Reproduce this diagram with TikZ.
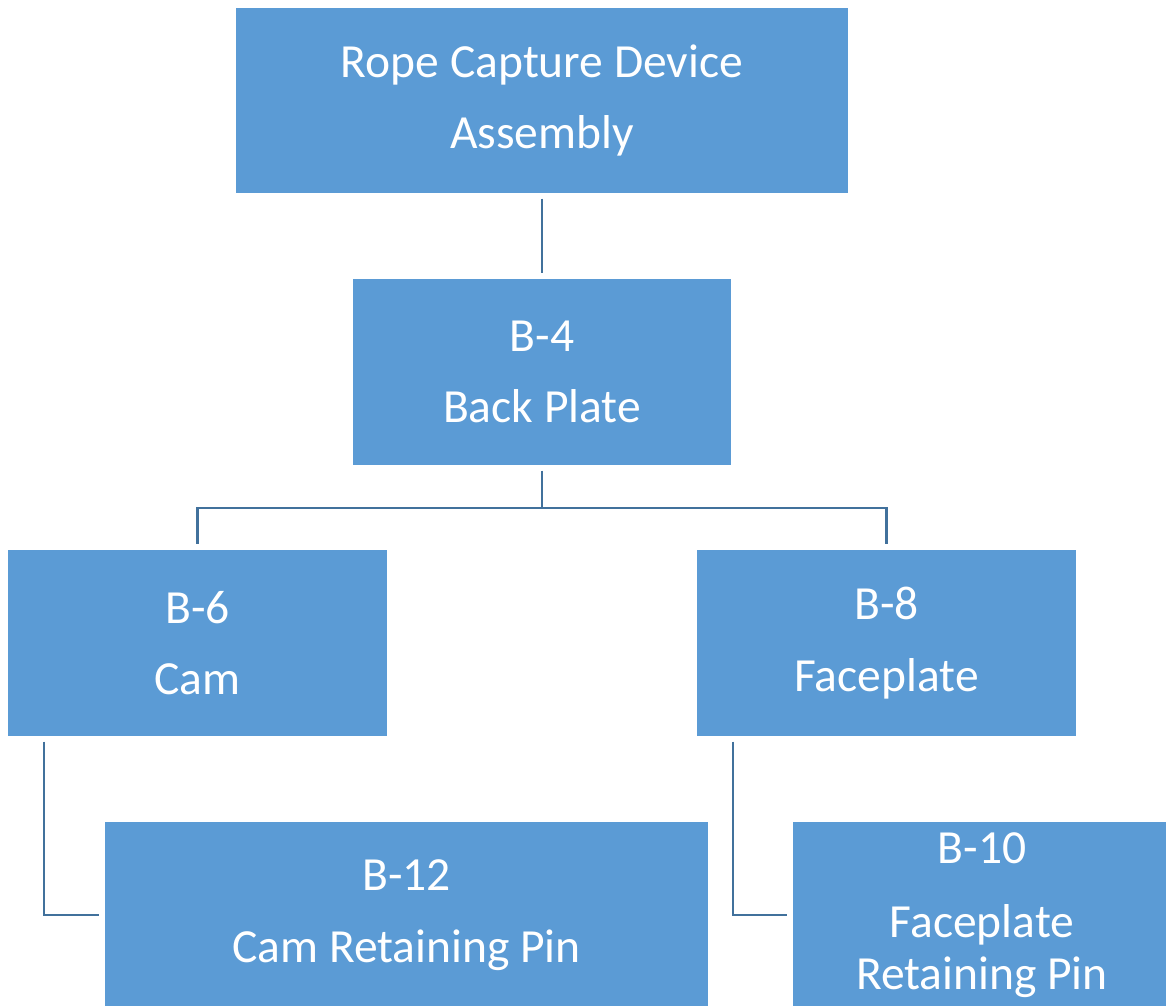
\documentclass[tikz,border=0pt]{standalone}
\usepackage{fontspec}
\setmainfont{Carlito}
\usepackage{tikz}
\usetikzlibrary{arrows.meta}

\definecolor{boxblue}{HTML}{5B9BD5}
\definecolor{lineblue}{HTML}{41719C}

\begin{document}
\begin{tikzpicture}[x=0.025cm, y=-0.025cm,
    part/.style={draw=white, line width=1pt, fill=boxblue, text=white, align=center,
                 minimum width=9.5cm, minimum height=4.7cm, inner sep=0pt,
                 font=\fontsize{33.8}{51}\selectfont},
    link/.style={draw=lineblue, line width=1.6pt}]
  \useasboundingbox (0,0) rectangle (1166,1006);

  \node[part, minimum width=15.35cm, minimum height=4.675cm] (rcd) at (542,100.5) {Rope Capture Device\\Assembly};
  \node[part] (b4) at (542,372) {B-4\\Back Plate};
  \node[part] (b6) at (197.5,643) {B-6\\Cam};
  \node[part] (b8) at (886.5,643) {B-8\\Faceplate};
  \node[part, minimum width=15.125cm] (b12) at (406.5,915) {B-12\\Cam Retaining Pin};
  \node[part, font=\fontsize{33.8}{37}\selectfont] (b10) at (982,915) {B-10\\[15.6pt]Faceplate\\Retaining Pin};

  \coordinate (fork) at (542,508);

  \draw[link, shorten <=2.8pt, shorten >=2.8pt] (rcd.south) -- (b4.north);
  \draw[link, shorten <=2.8pt] (b4.south) -- (fork);
  \draw[link, shorten >=2.8pt] (fork) -| (b6.north);
  \draw[link, shorten >=2.8pt] (fork) -| (b8.north);
  \draw[link, shorten <=2.8pt, shorten >=2.8pt] ([xshift=0.925cm]b6.south west) |- (b12.west);
  \draw[link, shorten <=2.8pt, shorten >=2.8pt] ([xshift=0.925cm]b8.south west) |- (b10.west);
\end{tikzpicture}
\end{document}
